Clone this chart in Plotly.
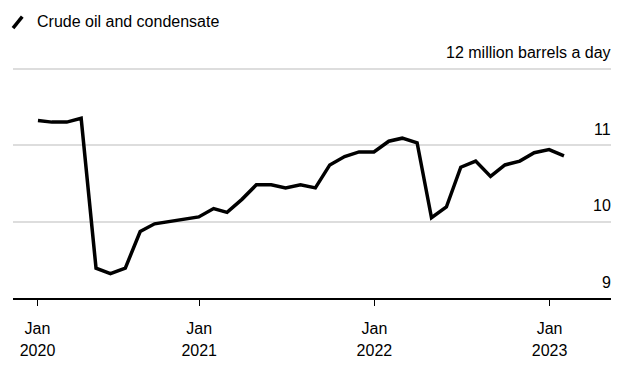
import pandas as pd
import plotly.graph_objects as go

# Monthly crude oil and condensate output, million barrels a day (Jan 2020 - Jan 2023)
months = pd.date_range("2020-01-31", periods=37, freq="ME")
values = [
    11.32, 11.30, 11.30, 11.35, 9.39, 9.32, 9.39, 9.87, 9.97, 10.00, 10.04, 10.06,
    10.17, 10.12, 10.29, 10.48, 10.48, 10.44, 10.48, 10.44, 10.74, 10.85, 10.91, 10.91,
    11.05, 11.09, 11.03, 10.05, 10.19, 10.71, 10.79, 10.59, 10.74, 10.79, 10.90, 10.94,
    10.86,
]

x_tick_vals = ["2020-01-30", "2021-01-01", "2022-01-01", "2023-01-01"]
x_tick_month = ["Jan", "Jan", "Jan", "Jan"]
x_tick_year = ["2020", "2021", "2022", "2023"]
y_tick_vals = [9, 10, 11, 12]
y_tick_text = ["9", "10", "11", "12 million barrels a day"]
series_name = "Crude oil and condensate"

FONT = "Liberation Sans, Arial, Helvetica, sans-serif"

fig = go.Figure()
fig.add_trace(go.Scatter(
    x=months, y=values, mode="lines", name=series_name,
    line=dict(color="#000000", width=3.5), showlegend=False,
))
# invisible trace to activate the second x axis (years row)
fig.add_trace(go.Scatter(x=[months[0]], y=[values[0]], xaxis="x2", mode="markers",
                         marker=dict(opacity=0), showlegend=False, hoverinfo="skip"))

x_range = ["2019-12-10", "2023-05-09"]

annotations = [dict(
    text=series_name, xref="paper", yref="paper",
    x=(34.5 - 12.5) / 599, y=(380 - 81.7 - 21.7) / 260.1,
    xanchor="left", yanchor="middle", showarrow=False,
    font=dict(size=16, family=FONT, color="#000000"),
)]
for v, t in zip(y_tick_vals, y_tick_text):
    annotations.append(dict(
        text=t, xref="paper", yref="y", x=1, y=v,
        xanchor="right", yanchor="middle", yshift=16, xshift=2,
        showarrow=False, font=dict(size=16, family=FONT, color="#000000"),
    ))

fig.update_layout(
    width=643, height=380,
    margin=dict(l=12.5, r=31.5, t=38.2, b=81.7),
    paper_bgcolor="white", plot_bgcolor="white",
    font=dict(family=FONT, size=16, color="#000000"),
    xaxis=dict(
        type="date", range=x_range,
        tickmode="array", tickvals=x_tick_vals, ticktext=x_tick_month,
        showgrid=False, zeroline=False,
        showline=True, linecolor="#000000", linewidth=1.5,
        ticks="outside", ticklen=6, tickwidth=1, tickcolor="#000000",
        ticklabelstandoff=9,
        tickfont=dict(size=16, family=FONT, color="#000000"),
    ),
    xaxis2=dict(
        type="date", overlaying="x", matches="x", anchor="y", side="bottom",
        tickmode="array", tickvals=x_tick_vals, ticktext=x_tick_year,
        showgrid=False, zeroline=False, showline=False, ticks="",
        ticklabelstandoff=41,
        tickfont=dict(size=16, family=FONT, color="#000000"),
    ),
    yaxis=dict(
        range=[9, 12.4], side="right",
        tickmode="array", tickvals=y_tick_vals, showticklabels=False,
        showgrid=True, gridcolor="#dddddd", gridwidth=1.5,
        zeroline=False, showline=False, ticks="",
    ),
    showlegend=False,
    shapes=[dict(
        type="line", xref="paper", yref="paper",
        x0=(12.5 - 12.5) / 599, x1=(21.8 - 12.5) / 599,
        y0=(380 - 81.7 - 28.3) / 260.1, y1=(380 - 81.7 - 16.8) / 260.1,
        line=dict(color="#000000", width=3.5),
    )],
    annotations=annotations,
)

fig.write_html("out.html", config={"displayModeBar": False},
               post_script="document.body.style.margin='0px';")
